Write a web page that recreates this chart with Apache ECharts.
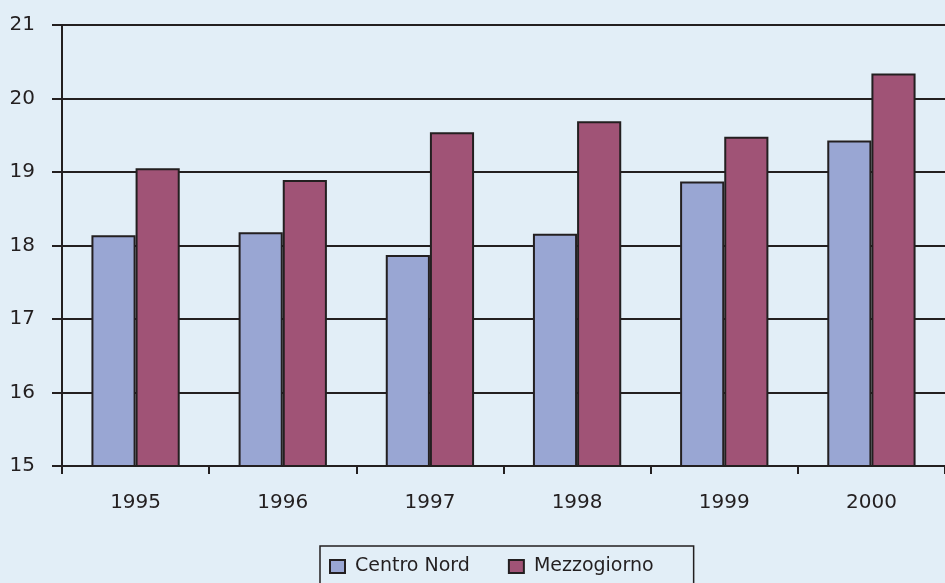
<!DOCTYPE html>
<html>
<head>
<meta charset="utf-8">
<script src="https://cdn.jsdelivr.net/npm/echarts@6/dist/echarts.min.js"></script>
<style>
  html, body { margin: 0; padding: 0; background: #e2eef7; }
  #chart { width: 945px; height: 583px; }
</style>
</head>
<body>
<div id="chart"></div>
<script>
var anni = ['1995', '1996', '1997', '1998', '1999', '2000'];
var centroNord = [18.14, 18.18, 17.87, 18.16, 18.87, 19.43];
var mezzogiorno = [19.05, 18.89, 19.54, 19.69, 19.48, 20.34];

var nero = '#231f20';
var font = 'DejaVu Sans';

var myChart = echarts.init(document.getElementById('chart'));

var option = {
    backgroundColor: '#e2eef7',
    animation: false,
    textStyle: { fontFamily: font, color: nero },
    grid: { left: 62, right: 0, top: 25, bottom: 117 },
    legend: {
        left: 320,
        top: 546,
        icon: 'rect',
        itemWidth: 15,
        itemHeight: 13,
        itemGap: 38,
        padding: [11, 40, 20, 9],
        borderColor: nero,
        borderWidth: 1.5,
        textStyle: { fontSize: 19, color: nero, fontFamily: font, padding: [0, 0, 0, 5] },
        data: ['Centro Nord', 'Mezzogiorno']
    },
    xAxis: {
        type: 'category',
        data: anni,
        axisLine: { lineStyle: { color: nero, width: 2 } },
        axisTick: { show: true, length: 8, lineStyle: { color: nero, width: 2 } },
        axisLabel: { fontSize: 20, color: nero, margin: 27 }
    },
    yAxis: {
        type: 'value',
        min: 15,
        max: 21,
        interval: 1,
        axisLine: { show: true, lineStyle: { color: nero, width: 2 } },
        axisTick: { show: true, length: 10, lineStyle: { color: nero, width: 2 } },
        axisLabel: { fontSize: 20, color: nero, margin: 27 },
        splitLine: { lineStyle: { color: nero, width: 2 } }
    },
    series: [
        {
            name: 'Centro Nord',
            type: 'bar',
            data: centroNord,
            barWidth: '30%',
            barGap: '0%',
            itemStyle: { color: '#99a6d3', borderColor: nero, borderWidth: 2 }
        },
        {
            name: 'Mezzogiorno',
            type: 'bar',
            data: mezzogiorno,
            barWidth: '30%',
            itemStyle: { color: '#a05376', borderColor: nero, borderWidth: 2 }
        }
    ]
};

myChart.setOption(option);
</script>
</body>
</html>
